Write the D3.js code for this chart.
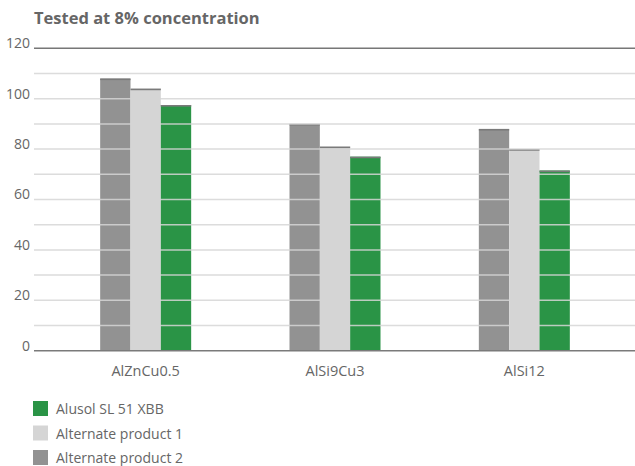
<!DOCTYPE html>
<html><head><meta charset="utf-8">
<script src="https://cdn.jsdelivr.net/npm/d3@7"></script>
<style>body{margin:0;background:#fff}svg{display:block}text{font-family:"Open Sans","Noto Sans",sans-serif}</style>
</head><body>
<svg id="c" width="635" height="466"></svg>
<script>
const title = "Tested at 8% concentration";
const categories = ["AlZnCu0.5", "AlSi9Cu3", "AlSi12"];
const seriesNames = ["Alternate product 2", "Alternate product 1", "Alusol SL 51 XBB"];
const alt2 = [108, 90, 88];
const alt1 = [104, 81, 80];
const alusol = [97.5, 77, 71.5];
const yTicks = [0, 20, 40, 60, 80, 100, 120];
const legendOrder = ["Alusol SL 51 XBB", "Alternate product 1", "Alternate product 2"];
const colors = {"Alusol SL 51 XBB": "#2a9446", "Alternate product 1": "#d5d5d5", "Alternate product 2": "#929292"};

const svg = d3.select("#c");
const W = 635, L = 34, T = 48.3, B = 350.7;
const y = d3.scaleLinear().domain([0, 120]).range([B, T]);
const x0 = d3.scaleBand().domain(categories).range([51, 619]).paddingInner(0).paddingOuter(0);
const x1 = d3.scaleBand().domain(seriesNames).range([0, 91]);
const seriesVals = {"Alternate product 2": alt2, "Alternate product 1": alt1, "Alusol SL 51 XBB": alusol};

svg.append("text").attr("x", 34).attr("y", 24).attr("font-size", 16.5).attr("font-weight", "bold")
  .attr("fill", "#666").text(title);

// bars
const groups = svg.append("g").selectAll("g").data(categories).join("g")
  .attr("transform", d => `translate(${x0(d) + x0.bandwidth()/2 - 45.5},0)`);
groups.each(function(cat, i) {
  const g = d3.select(this);
  seriesNames.forEach(s => {
    const v = seriesVals[s][i];
    g.append("rect").attr("x", x1(s)).attr("width", x1.bandwidth())
      .attr("y", y(v)).attr("height", y(0) - y(v)).attr("fill", colors[s]);
    g.append("line").attr("x1", x1(s)).attr("x2", x1(s) + x1.bandwidth())
      .attr("y1", y(v) + 0.8).attr("y2", y(v) + 0.8).attr("stroke", "#7a7a7a").attr("stroke-width", 1.6);
  });
});

// gridlines (over bars)
const grid = d3.range(10, 120, 10);
svg.append("g").selectAll("line").data(grid).join("line")
  .attr("x1", L).attr("x2", W).attr("y1", d => y(d)).attr("y2", d => y(d))
  .attr("stroke", "#d6d6d6").attr("stroke-width", 1.5).attr("opacity", 0.85);
svg.append("line").attr("x1", L).attr("x2", W).attr("y1", y(120)).attr("y2", y(120))
  .attr("stroke", "#777").attr("stroke-width", 1.6);
svg.append("line").attr("x1", L).attr("x2", W).attr("y1", y(0)).attr("y2", y(0))
  .attr("stroke", "#7a7a7a").attr("stroke-width", 1.6);

// y axis labels
const yAxis = d3.axisLeft(y).tickValues(yTicks).tickSize(0).tickPadding(0);
const ya = svg.append("g").attr("transform", "translate(30,-5)").call(yAxis);
ya.select(".domain").remove();
ya.selectAll("text").attr("font-size", 14).attr("fill", "#666").attr("font-family", "'Open Sans','Noto Sans',sans-serif");

// x axis labels
const xAxis = d3.axisBottom(x0).tickSize(0).tickPadding(0);
const xa = svg.append("g").attr("transform", "translate(0,366)").call(xAxis);
xa.select(".domain").remove();
xa.selectAll("text").attr("font-size", 14.5).attr("fill", "#666").attr("font-family", "'Open Sans','Noto Sans',sans-serif");

// legend
const lg = svg.append("g").selectAll("g").data(legendOrder).join("g")
  .attr("transform", (d, i) => `translate(33,${401 + i * 24.5})`);
lg.append("rect").attr("width", 15).attr("height", 15).attr("fill", d => colors[d]);
lg.append("text").attr("x", 23).attr("y", 13).attr("font-size", 14).attr("fill", "#666").text(d => d);
</script>
</body></html>
